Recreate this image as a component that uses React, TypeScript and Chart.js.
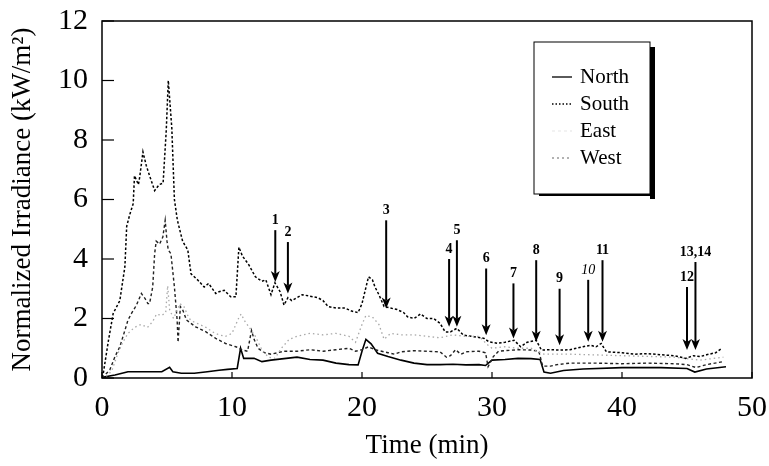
import React, { useEffect, useRef } from "react";
import { Chart, registerables } from "chart.js";

Chart.register(...registerables);

const FONT = "'Liberation Serif', 'Times New Roman', serif";

const xTicks = [0, 10, 20, 30, 40, 50];
const yTicks = [0, 2, 4, 6, 8, 10, 12];

const northT = [0, 1, 2, 3.3, 4.6, 5.2, 5.45, 6.1, 7.1, 8.1, 9.0, 9.65, 10.4, 10.66, 10.9, 11.7, 12.3, 13, 14, 15, 16, 17, 18, 19, 19.7, 20.0, 20.3, 20.7, 21.2, 22, 23, 24, 25, 26, 27, 28, 29, 29.5, 30, 31, 32, 33, 33.7, 34, 34.5, 35.5, 37, 40, 43, 45, 45.6, 46.5, 48];
const northV = [0.02, 0.1, 0.21, 0.21, 0.21, 0.36, 0.21, 0.16, 0.16, 0.21, 0.26, 0.29, 0.32, 1.0, 0.66, 0.66, 0.55, 0.6, 0.65, 0.7, 0.62, 0.6, 0.5, 0.45, 0.44, 0.9, 1.3, 1.15, 0.83, 0.72, 0.6, 0.5, 0.45, 0.45, 0.46, 0.44, 0.45, 0.42, 0.6, 0.62, 0.66, 0.65, 0.62, 0.2, 0.16, 0.25, 0.3, 0.35, 0.35, 0.32, 0.2, 0.3, 0.38];

const southT = [0, 0.1, 0.5, 0.86, 1.37, 1.76, 1.9, 2.14, 2.4, 2.5, 2.8, 2.9, 3.15, 3.4, 3.66, 4.05, 4.4, 4.7, 4.94, 5.1, 5.37, 5.57, 5.8, 6.2, 6.6, 6.85, 7.35, 7.86, 8.2, 8.75, 9.0, 9.4, 9.9, 10.3, 10.53, 10.8, 11.3, 11.8, 12.3, 12.6, 13.0, 13.3, 13.7, 14.0, 14.3, 14.6, 15.0, 15.4, 16.0, 16.6, 17.0, 17.4, 18.0, 18.7, 19.2, 19.7, 20.0, 20.5, 20.8, 21.0, 21.3, 21.7, 22.2, 22.7, 23.2, 23.5, 24.0, 24.5, 25.0, 25.5, 26.0, 26.4, 26.8, 27.3, 27.8, 28.6, 29.4, 29.75, 30.4, 31.0, 31.7, 32.2, 32.7, 33.4, 33.8, 34.5, 35.2, 36.0, 37.0, 37.6, 38.0, 38.4, 38.8, 40, 41, 42, 43, 44, 44.9, 45.5, 46, 46.5, 47.2, 47.7];
const southV = [0.02, 0.16, 1.27, 2.17, 2.6, 3.74, 5.1, 5.5, 5.86, 6.8, 6.5, 6.75, 7.6, 7.15, 6.8, 6.3, 6.5, 6.55, 8.3, 10.0, 8.4, 6.0, 5.3, 4.6, 4.3, 3.5, 3.3, 3.06, 3.18, 2.84, 2.9, 2.95, 2.73, 2.73, 4.4, 4.1, 3.8, 3.4, 3.25, 3.3, 2.8, 3.2, 2.9, 2.45, 2.7, 2.6, 2.7, 2.8, 2.75, 2.7, 2.6, 2.4, 2.35, 2.35, 2.25, 2.2, 2.5, 3.4, 3.3, 3.06, 2.8, 2.4, 2.35, 2.3, 2.2, 2.06, 2.0, 2.15, 2.0, 2.0, 1.84, 1.55, 1.55, 1.67, 1.44, 1.39, 1.33, 1.22, 1.17, 1.2, 1.27, 1.05, 1.2, 1.27, 0.94, 0.95, 0.94, 0.95, 1.05, 1.1, 1.05, 1.16, 0.88, 0.85, 0.8, 0.82, 0.78, 0.75, 0.66, 0.75, 0.72, 0.78, 0.85, 1.0];

const eastT = [0, 0.6, 1.0, 1.37, 1.76, 2.0, 2.27, 2.65, 3.03, 3.3, 3.53, 3.66, 3.9, 4.05, 4.17, 4.43, 4.68, 4.86, 5.0, 5.1, 5.3, 5.57, 5.78, 5.85, 6.03, 6.2, 6.5, 7.2, 8.0, 8.75, 9.5, 10.3, 10.8, 11.2, 11.5, 11.7, 12.0, 12.5, 13, 13.5, 14, 15, 16, 17, 18, 19, 19.5, 20, 20.5, 21, 22, 22.5, 23, 24, 25, 26, 26.5, 26.8, 27.2, 27.6, 28, 29, 29.5, 29.7, 30.1, 30.5, 31, 32, 33, 33.6, 33.9, 34.5, 35, 36, 38, 40, 42, 44, 45, 45.7, 46.5, 47.8];
const eastV = [0, 0.27, 0.72, 1.05, 1.6, 1.95, 2.17, 2.45, 2.84, 2.68, 2.5, 2.5, 3.06, 4.18, 4.6, 4.5, 4.74, 5.3, 4.6, 4.3, 4.18, 3.06, 1.95, 1.2, 2.4, 2.3, 1.95, 1.72, 1.55, 1.33, 1.16, 1.05, 0.94, 0.9, 1.6, 1.3, 1.0, 0.85, 0.8, 0.85, 0.9, 0.9, 0.95, 0.9, 0.95, 1.0, 0.9, 0.95, 1.05, 0.95, 0.85, 0.8, 0.88, 0.92, 0.9, 0.88, 0.7, 0.75, 0.95, 0.8, 0.88, 0.9, 0.85, 0.38, 0.72, 0.9, 0.92, 0.95, 0.94, 0.9, 0.4, 0.4, 0.45, 0.5, 0.5, 0.48, 0.5, 0.48, 0.45, 0.35, 0.45, 0.55];

const westT = [0, 0.5, 0.8, 1.2, 1.6, 2.0, 2.5, 3.0, 3.5, 3.9, 4.2, 4.6, 4.9, 5.05, 5.2, 5.5, 6.0, 6.3, 6.7, 7.0, 7.5, 8.0, 8.5, 9.0, 9.5, 10.0, 10.5, 10.7, 11.0, 11.3, 11.8, 12.3, 12.8, 13.3, 13.8, 14.4, 15, 16, 17, 18, 19, 19.5, 20, 20.3, 20.8, 21.3, 21.7, 22.2, 23, 24, 25, 26, 27, 28, 29, 29.7, 30, 31, 32, 33, 34, 36, 40, 44, 46, 47.8];
const westV = [0, 0.1, 0.3, 0.8, 1.2, 1.5, 1.7, 1.8, 1.7, 1.9, 2.15, 2.1, 2.2, 3.1, 2.3, 2.0, 2.5, 2.4, 2.0, 1.9, 1.8, 1.7, 1.55, 1.45, 1.4, 1.5, 2.0, 2.15, 1.9, 1.72, 1.4, 0.95, 0.7, 0.66, 1.0, 1.3, 1.4, 1.5, 1.45, 1.5, 1.4, 1.2, 1.8, 2.1, 2.05, 1.8, 1.3, 1.5, 1.45, 1.45, 1.4, 1.35, 1.45, 1.4, 1.4, 1.1, 1.0, 1.05, 1.0, 1.0, 0.8, 0.8, 0.75, 0.7, 0.6, 0.7];

const arrowLabels = ["1", "2", "3", "4", "5", "6", "7", "8", "9", "10", "11", "12", "13,14"];
const arrowTimes = [13.33, 14.3, 21.86, 26.7, 27.3, 29.55, 31.65, 33.4, 35.2, 37.4, 38.5, 45.0, 45.65];
const arrowTips = [3.23, 2.84, 2.34, 1.72, 1.72, 1.44, 1.33, 1.22, 1.1, 1.22, 1.22, 0.94, 0.94];
const arrowTops = [4.97, 4.57, 5.3, 4.0, 4.63, 3.68, 3.18, 3.96, 3.0, 3.3, 3.96, 3.06, 3.9];

const legendNames = ["North", "South", "East", "West"];

const pts = (t: number[], v: number[]) => t.map((x, i) => ({ x, y: v[i] }));

const overlay = {
  id: "overlay",
  afterDatasetsDraw(chart: any) {
    const { ctx, chartArea: a, scales } = chart;
    const xs = scales.x;
    const ys = scales.y;
    ctx.save();
    ctx.strokeStyle = "#000";
    ctx.fillStyle = "#000";
    ctx.setLineDash([]);
    // frame
    ctx.lineWidth = 1.5;
    ctx.strokeRect(a.left, a.top, a.right - a.left, a.bottom - a.top);
    // inward ticks
    ctx.lineWidth = 1.2;
    yTicks.forEach((v) => {
      const py = ys.getPixelForValue(v);
      ctx.beginPath();
      ctx.moveTo(a.left, py);
      ctx.lineTo(a.left + 12, py);
      ctx.stroke();
    });
    xTicks.forEach((v) => {
      const px = xs.getPixelForValue(v);
      ctx.beginPath();
      ctx.moveTo(px, a.bottom);
      ctx.lineTo(px, a.bottom - 6);
      ctx.stroke();
    });
    // arrows
    arrowLabels.forEach((lab, i) => {
      const px = xs.getPixelForValue(arrowTimes[i]);
      const tip = ys.getPixelForValue(arrowTips[i]);
      const top = ys.getPixelForValue(arrowTops[i]);
      ctx.lineWidth = 2;
      ctx.beginPath();
      ctx.moveTo(px, top);
      ctx.lineTo(px, tip - 8);
      ctx.stroke();
      ctx.beginPath();
      ctx.moveTo(px, tip);
      ctx.lineTo(px - 4.5, tip - 11);
      ctx.lineTo(px, tip - 8);
      ctx.lineTo(px + 4.5, tip - 11);
      ctx.closePath();
      ctx.fill();
      ctx.font = (lab === "10" ? "italic " : "bold ") + "14px " + FONT;
      ctx.textAlign = "center";
      ctx.textBaseline = "bottom";
      ctx.fillText(lab, px, top - 3);
    });
    // legend box
    const bx = 534, by = 42, bw = 116, bh = 152;
    ctx.fillStyle = "#fff";
    ctx.fillRect(bx, by, bw, bh);
    ctx.fillStyle = "#000";
    ctx.fillRect(bx + bw, by + 5, 5, bh);
    ctx.fillRect(bx + 5, by + bh, bw, 2);
    ctx.lineWidth = 1;
    ctx.strokeRect(bx, by, bw, bh);
    const rows = [77, 104, 131, 158];
    const styles: any[] = [
      { c: "#000", d: [] },
      { c: "#000", d: [1.5, 2] },
      { c: "rgba(0,0,0,0.08)", d: [3, 3] },
      { c: "#999", d: [2, 3] },
    ];
    ctx.font = "21px " + FONT;
    ctx.textAlign = "left";
    ctx.textBaseline = "middle";
    legendNames.forEach((n, i) => {
      const yy = rows[i];
      ctx.strokeStyle = styles[i].c;
      ctx.setLineDash(styles[i].d);
      ctx.lineWidth = 1.3;
      ctx.beginPath();
      ctx.moveTo(552, yy);
      ctx.lineTo(572, yy);
      ctx.stroke();
      ctx.setLineDash([]);
      ctx.fillStyle = "#000";
      ctx.fillText(n, 580, yy);
    });
    ctx.restore();
  },
};

export default function App() {
  const ref = useRef<HTMLCanvasElement | null>(null);
  useEffect(() => {
    if (!ref.current) return;
    const chart = new Chart(ref.current, {
      type: "line",
      data: {
        datasets: [
          { label: "West", data: pts(westT, westV), borderColor: "#a8a8a8", borderWidth: 1.3, borderDash: [1.5, 3], pointRadius: 0, tension: 0, fill: false },
          { label: "East", data: pts(eastT, eastV), borderColor: "#222", borderWidth: 1.4, borderDash: [3, 2.5], pointRadius: 0, tension: 0, fill: false },
          { label: "South", data: pts(southT, southV), borderColor: "#000", borderWidth: 1.5, borderDash: [2.5, 2], pointRadius: 0, tension: 0, fill: false },
          { label: "North", data: pts(northT, northV), borderColor: "#000", borderWidth: 1.6, pointRadius: 0, tension: 0, fill: false },
        ],
      },
      options: {
        responsive: false,
        animation: false,
        parsing: false as any,
        layout: { padding: { left: 0, top: 21, right: 17, bottom: 0 } },
        plugins: { legend: { display: false }, tooltip: { enabled: false } },
        scales: {
          x: {
            type: "linear",
            min: 0,
            max: 50,
            afterFit: (s: any) => { s.height = 88; s.paddingLeft = 0; s.paddingRight = 0; },
            grid: { display: false, drawTicks: false },
            border: { display: false },
            ticks: { stepSize: 10, color: "#000", font: { family: FONT, size: 30 }, padding: 12, maxRotation: 0, autoSkip: false },
            title: { display: true, text: "Time (min)", color: "#000", font: { family: FONT, size: 27 }, padding: { top: 0, bottom: 4 } },
          },
          y: {
            type: "linear",
            min: 0,
            max: 12,
            afterFit: (s: any) => { s.width = 102; s.paddingTop = 0; s.paddingBottom = 0; },
            grid: { display: false, drawTicks: false },
            border: { display: false },
            ticks: { stepSize: 2, color: "#000", font: { family: FONT, size: 30 }, padding: 14, autoSkip: false },
            title: { display: true, text: "Normalized Irradiance (kW/m\u00B2)", color: "#000", font: { family: FONT, size: 27 }, padding: { top: 7, bottom: 0 } },
          },
        },
      },
      plugins: [overlay],
    } as any);
    return () => chart.destroy();
  }, []);
  return (
    <div style={{ position: "fixed", left: 0, top: 0, width: 769, height: 466, background: "#fff" }}>
      <canvas ref={ref} width={769} height={466} style={{ display: "block", width: 769, height: 466 }} />
    </div>
  );
}
